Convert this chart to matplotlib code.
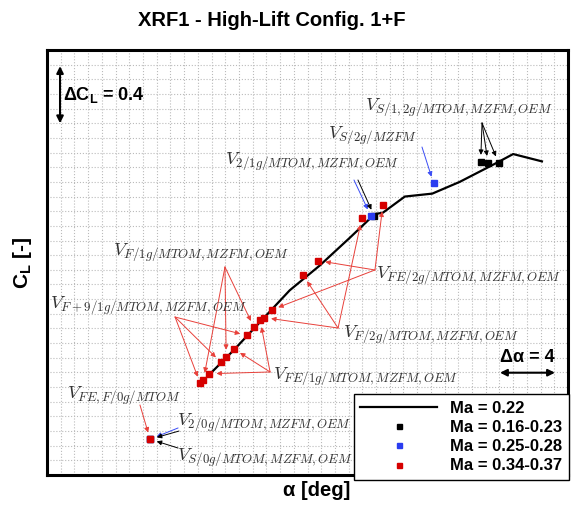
import matplotlib
matplotlib.use('Agg')
import matplotlib.pyplot as plt
import numpy as np

plt.rcParams['font.family'] = ['Liberation Sans', 'DejaVu Sans']
plt.rcParams['font.weight'] = 'bold'

# Ma = 0.22 polar: angle of attack [deg] and lift coefficient
alpha_022 = [4.0, 5.6, 7.5, 9.7, 11.9, 14.1, 15.9, 16.5, 18.1, 20.1, 22.1, 24.8, 26.0, 28.1]
cl_022 = [0.70, 0.85, 1.04, 1.26, 1.43, 1.62, 1.78, 1.79, 1.90, 1.92, 2.00, 2.13, 2.19, 2.14]

# single test points per Mach range
alpha_red = [3.17, 3.41, 3.85, 4.68, 5.07, 5.65, 6.58, 7.09, 7.55, 7.84, 8.39,
             10.69, 11.80, 14.97, 16.50, -0.48]
cl_red = [0.626, 0.651, 0.691, 0.769, 0.807, 0.859, 0.952, 1.008, 1.056, 1.074, 1.127,
          1.362, 1.462, 1.755, 1.845, 0.244]
alpha_blue = [-0.48, 15.61, 20.2]
cl_blue = [0.244, 1.769, 1.990]
alpha_black = [-0.48, 15.87, 23.63, 24.17, 24.94]
cl_black = [0.244, 1.767, 2.137, 2.130, 2.130]

legend_labels = ['Ma = 0.22', 'Ma = 0.16-0.23', 'Ma = 0.25-0.28', 'Ma = 0.34-0.37']

# speed labels: text and its anchor (left, baseline) in data units
label_text = [r'$V_{S/1,2g/MTOM,MZFM,OEM}$', r'$V_{S/2g/MZFM}$', r'$V_{2/1g/MTOM,MZFM,OEM}$',
              r'$V_{F/1g/MTOM,MZFM,OEM}$', r'$V_{FE/2g/MTOM,MZFM,OEM}$',
              r'$V_{F+9/1g/MTOM,MZFM,OEM}$', r'$V_{F/2g/MTOM,MZFM,OEM}$',
              r'$V_{FE/1g/MTOM,MZFM,OEM}$', r'$V_{FE,F/0g/MTOM}$',
              r'$V_{2/0g/MTOM,MZFM,OEM}$', r'$V_{S/0g/MTOM,MZFM,OEM}$']
label_pos = [(15.19, 2.491), (12.50, 2.300), (4.98, 2.122), (-3.19, 1.501), (16.0, 1.344),
             (-7.78, 1.140), (13.59, 0.942), (8.48, 0.655), (-6.54, 0.525),
             (1.48, 0.341), (1.48, 0.102)]

# arrows: tail position, series, point index
arrows = [((23.73, 2.402), 'black', 2), ((23.73, 2.402), 'black', 3), ((23.73, 2.402), 'black', 4),
          ((19.35, 2.238), 'blue', 2),
          ((14.39, 2.013), 'blue', 1), ((14.68, 2.013), 'black', 1),
          ((15.92, 1.399), 'red', 14), ((15.92, 1.399), 'red', 12), ((15.92, 1.399), 'red', 10),
          ((13.23, 1.003), 'red', 13), ((13.23, 1.003), 'red', 11), ((13.23, 1.003), 'red', 9),
          ((8.27, 0.703), 'red', 2), ((8.27, 0.703), 'red', 5), ((8.27, 0.703), 'red', 8),
          ((4.98, 1.419), 'red', 1), ((4.98, 1.419), 'red', 4), ((4.98, 1.419), 'red', 7),
          ((1.34, 1.078), 'red', 0), ((1.34, 1.078), 'red', 3), ((1.34, 1.078), 'red', 6),
          ((-1.22, 0.478), 'red', 15),
          ((1.56, 0.321), 'blue', 0), ((1.63, 0.300), 'black', 0),
          ((1.56, 0.184), 'black', 0)]

red = '#d60000'
blue = '#2a3cf0'
series = {'red': (alpha_red, cl_red), 'blue': (alpha_blue, cl_blue), 'black': (alpha_black, cl_black)}
arrow_col = {'red': '#e8403a', 'blue': '#3a4cf5', 'black': 'black'}

fig = plt.figure(figsize=(5.74, 5.12), dpi=100)
ax = fig.add_axes([47 / 574, 37 / 512, 521 / 574, 425 / 512])

ax.plot(alpha_022, cl_022, color='black', lw=1.6, zorder=3, label=legend_labels[0])
ax.plot(alpha_black, cl_black, 's', color='black', ms=4, ls='none', zorder=4, label=legend_labels[1])
ax.plot(alpha_blue, cl_blue, 's', color=blue, ms=4, ls='none', zorder=5, label=legend_labels[2])
ax.plot(alpha_red, cl_red, 's', color=red, ms=4, ls='none', zorder=6, label=legend_labels[3])

for txt, pos in zip(label_text, label_pos):
    ax.text(pos[0], pos[1], txt, fontsize=13.3, color='#333333', ha='left', va='baseline',
            math_fontfamily='cm', zorder=7)

for tail, key, i in arrows:
    xs, ys = series[key]
    ax.annotate('', xy=(xs[i], ys[i]), xytext=tail,
                arrowprops=dict(arrowstyle='-|>', color=arrow_col[key], lw=0.7,
                                mutation_scale=7, shrinkA=0, shrinkB=5), zorder=6)

# scale hints
ax.annotate('', xy=(-7.05, 2.40), xytext=(-7.05, 2.79),
            arrowprops=dict(arrowstyle='<|-|>', color='black', lw=1.5, mutation_scale=10,
                            shrinkA=0, shrinkB=0))
ax.text(-6.8, 2.59, 'ΔC$_\\mathregular{L}$ = 0.4', fontsize=13, fontweight='bold',
        ha='left', va='center')
ax.annotate('', xy=(25.04, 0.698), xytext=(29.05, 0.698),
            arrowprops=dict(arrowstyle='<|-|>', color='black', lw=1.5, mutation_scale=10,
                            shrinkA=0, shrinkB=0))
ax.text(27.05, 0.805, 'Δα = 4', fontsize=13, fontweight='bold', ha='center', va='center')

ax.set_xlim(-8, 30)
ax.set_ylim(0, 2.9)
ax.set_xticks(np.arange(-8, 31, 1))
ax.set_yticks(np.arange(0, 2.91, 0.1))
ax.tick_params(length=0, labelbottom=False, labelleft=False)
ax.grid(True, color='#bbbbbb', ls=':', lw=0.8)
ax.set_axisbelow(True)
for s in ax.spines.values():
    s.set_linewidth(2.2)

leg = ax.legend(loc='lower right', bbox_to_anchor=(569 / 574, 32 / 512),
                bbox_transform=fig.transFigure, borderaxespad=0, fancybox=False,
                edgecolor='black', framealpha=1, handlelength=4.6, markerscale=0.9,
                labelspacing=0.25, prop={'weight': 'bold', 'size': 12})
leg.get_frame().set_linewidth(1.0)
leg.set_zorder(10)

fig.text(272 / 574, 1 - 21 / 512, 'XRF1 - High-Lift Config. 1+F', fontsize=14.5,
         fontweight='bold', ha='center', va='center')
fig.text(22 / 574, 1 - 263 / 512, 'C$_\\mathregular{L}$ [-]', fontsize=15, fontweight='bold',
         rotation=90, ha='center', va='center')
fig.text(317 / 574, 1 - 491 / 512, 'α [deg]', fontsize=14.5, fontweight='bold',
         ha='center', va='center')

fig.savefig('out.png', dpi=100)
